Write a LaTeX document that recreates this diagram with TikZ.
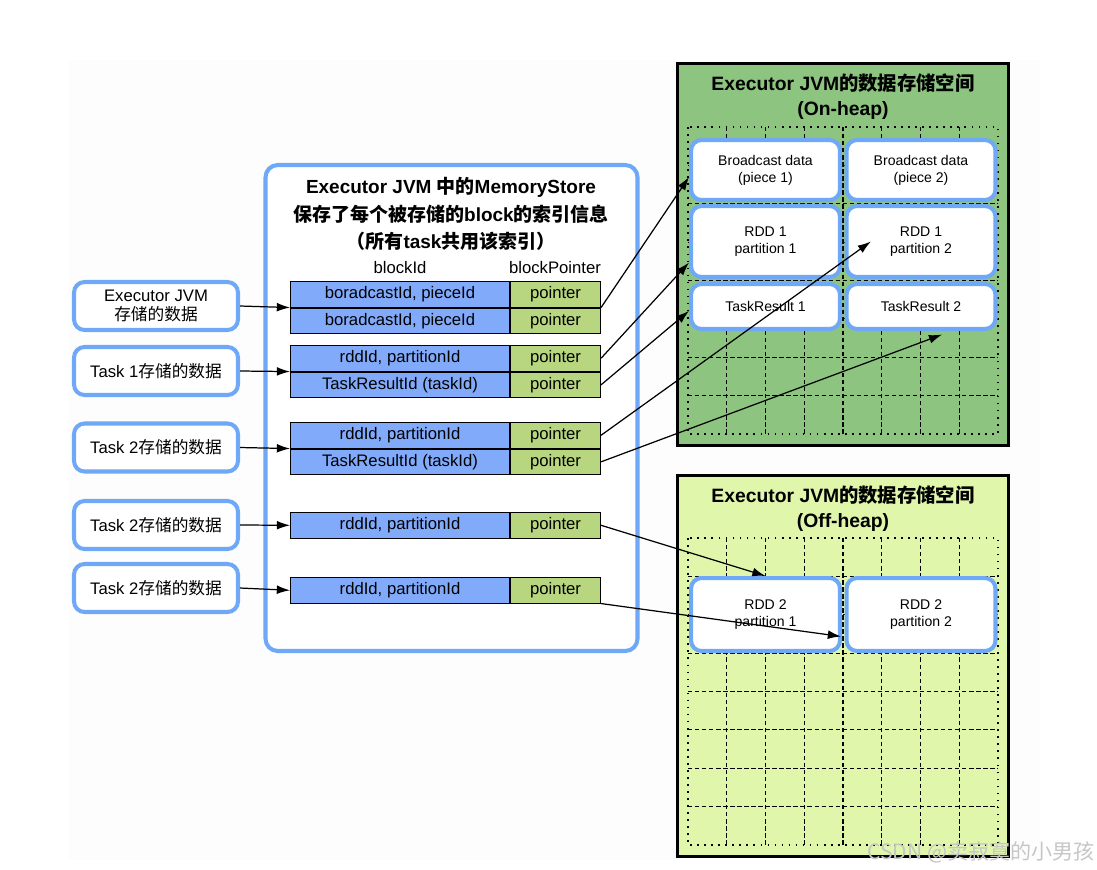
\documentclass[tikz,border=0pt]{standalone}
\usepackage{fontspec}
\setmainfont{Liberation Sans}
\newfontfamily\cjk{Noto Sans CJK SC}
\usetikzlibrary{arrows.meta,positioning}

\definecolor{azulborde}{RGB}{110,168,246}
\definecolor{azulcelda}{RGB}{130,170,250}
\definecolor{verdecelda}{RGB}{183,214,127}
\definecolor{verdeheap}{RGB}{140,196,128}
\definecolor{verdeoff}{RGB}{224,246,170}
\definecolor{fondo}{RGB}{253,253,253}

\tikzset{
  origen/.style={draw=azulborde, line width=2.3pt, fill=white, rounded corners=6pt, minimum width=3.28cm, minimum height=0.96cm, align=center, inner sep=0pt, font=\fontsize{9.5}{11.3}\selectfont},
  idcelda/.style={draw=black, line width=0.6pt, fill=azulcelda, minimum width=4.38cm, minimum height=0.51cm, inner sep=0pt, font=\fontsize{9.5}{11}\selectfont},
  ptrcelda/.style={idcelda, fill=verdecelda, minimum width=1.8cm},
  bloque/.style={draw=azulborde, line width=2.3pt, fill=white, rounded corners=6pt, minimum width=2.98cm, align=center, inner sep=0pt, font=\fontsize{8}{9.6}\selectfont},
  titulo/.style={font=\bfseries\fontsize{10.8}{13}\selectfont},
  subtitulo/.style={font=\bfseries\fontsize{11}{13}\selectfont},
  flecha/.style={line width=0.7pt, -{Latex[length=7.5pt,width=5pt]}},
  rejilla/.style={line width=0.6pt, dash pattern=on 2.5pt off 1.5pt},
  borde/.style={line width=0.6pt, dash pattern=on 1pt off 3pt},
}

\begin{document}
\begin{tikzpicture}[x=0.02cm, y=-0.02cm]

	\useasboundingbox (0,0) rectangle (1097,869);
	\fill[fondo] (69,60) rectangle (1040,860);

	% Datos de origen
	\node[origen] (lb1) at (156,306) {Executor JVM\\{\cjk 存储的数据}};
	\node[origen] (lb2) at (156,371) {Task 1{\cjk 存储的数据}};
	\node[origen] (lb3) at (156,447.5) {Task 2{\cjk 存储的数据}};
	\node[origen] (lb4) at (156,525) {Task 2{\cjk 存储的数据}};
	\node[origen] (lb5) at (156,588) {Task 2{\cjk 存储的数据}};

	% MemoryStore
	\draw[azulborde, line width=2.3pt, fill=white, rounded corners=7pt] (265.5,165) rectangle (637.5,651);
	\node[titulo] (t1) at (451,187) {Executor JVM {\cjk 中的}MemoryStore};
	\node[titulo] (t2) at (451,214) {{\cjk 保存了每个被存储的}block{\cjk 的索引信息}};
	\node[titulo] (t3) at (451,241) {{\cjk （所有}task{\cjk 共用该索引）}};
	\node[font=\fontsize{9.5}{11}\selectfont] (hid) at (400,268) {blockId};
	\node[font=\fontsize{9.5}{11}\selectfont] (hptr) at (555,268) {blockPointer};

	% Tabla de bloques
	\node[idcelda, anchor=north west] (k1) at (290,281) {boradcastId, pieceId};
	\node[ptrcelda, right=0pt of k1] (p1) {pointer};
	\node[idcelda, below=0pt of k1] (k2) {boradcastId, pieceId};
	\node[ptrcelda, right=0pt of k2] (p2) {pointer};

	\node[idcelda, anchor=north west] (k3) at (290,345) {rddId, partitionId};
	\node[ptrcelda, right=0pt of k3] (p3) {pointer};
	\node[idcelda, below=0pt of k3] (k4) {TaskResultId (taskId)};
	\node[ptrcelda, right=0pt of k4] (p4) {pointer};

	\node[idcelda, anchor=north west] (k5) at (290,422) {rddId, partitionId};
	\node[ptrcelda, right=0pt of k5] (p5) {pointer};
	\node[idcelda, below=0pt of k5] (k6) {TaskResultId (taskId)};
	\node[ptrcelda, right=0pt of k6] (p6) {pointer};

	\node[idcelda, anchor=north west] (k7) at (290,512) {rddId, partitionId};
	\node[ptrcelda, right=0pt of k7] (p7) {pointer};

	\node[idcelda, anchor=north west] (k8) at (290,577) {rddId, partitionId};
	\node[ptrcelda, right=0pt of k8] (p8) {pointer};

	% Espacio On-heap
	\draw[line width=1.7pt, fill=verdeheap] (677.5,63.5) rectangle (1008.5,445.5);
	\node[subtitulo] (on1) at (843,83) {Executor JVM{\cjk 的数据存储空间}};
	\node[subtitulo] (on2) at (843,110) {(On-heap)};
	\foreach \i in {1,...,7} {
		\draw[rejilla] ({688+38.75*\i},127) -- ({688+38.75*\i},434);
		\draw[rejilla] (688,{127+38.375*\i}) -- (998,{127+38.375*\i});
	}
	\draw[borde] (688,127) rectangle (998,434);

	\node[bloque, minimum height=1.2cm] (bc1) at (765.5,170) {Broadcast data\\(piece 1)};
	\node[bloque, minimum height=1.2cm] (bc2) at (921,170) {Broadcast data\\(piece 2)};
	\node[bloque, minimum height=1.42cm] (r1) at (765.5,241.5) {RDD 1\\partition 1};
	\node[bloque, minimum height=1.42cm] (r2) at (921,241.5) {RDD 1\\partition 2};
	\node[bloque, minimum height=0.9cm] (tr1) at (765.5,306.5) {TaskResult 1};
	\node[bloque, minimum height=0.9cm] (tr2) at (921,306.5) {TaskResult 2};

	% Espacio Off-heap
	\draw[line width=1.7pt, fill=verdeoff] (677.5,475.5) rectangle (1008.5,856.5);
	\node[subtitulo] (off1) at (843,495) {Executor JVM{\cjk 的数据存储空间}};
	\node[subtitulo] (off2) at (843,522) {(Off-heap)};
	\foreach \i in {1,...,7} {
		\draw[rejilla] ({688+38.75*\i},538) -- ({688+38.75*\i},845);
		\draw[rejilla] (688,{538+38.375*\i}) -- (998,{538+38.375*\i});
	}
	\draw[borde] (688,538) rectangle (998,845);

	\node[bloque, minimum height=1.46cm] (rd1) at (765.5,614.5) {RDD 2\\partition 1};
	\node[bloque, minimum height=1.46cm] (rd2) at (921,614.5) {RDD 2\\partition 2};

	% Flechas hacia la tabla
	\draw[flecha] (lb1.east) -- (k1.south west);
	\draw[flecha] (lb2.east) -- (k3.south west);
	\draw[flecha] (lb3.east) -- (k5.south west);
	\draw[flecha] (lb4.east) -- (k7.west);
	\draw[flecha] (lb5.east) -- (k8.west);

	% Flechas de los punteros
	\draw[flecha] (p1.south east) -- ([yshift=-4pt]bc1.west);
	\draw[flecha] (p3.east) -- ([yshift=-12pt]r1.west);
	\draw[flecha] (p4.east) -- ([yshift=-2.5pt]tr1.west);
	\draw[flecha] (p5.east) -- ([xshift=15pt]r2.west);
	\draw[flecha] (p6.east) -- ([xshift=12pt,yshift=-2pt]tr2.south);
	\draw[flecha] (p7.east) -- (rd1.north);
	\draw[flecha] (p8.south east) -- ([xshift=-2pt,yshift=-12.5pt]rd2.west);

	% Marca de agua
	\node[text=gray!45, font=\cjk\fontsize{12}{14}\selectfont] (marca) at (981,852) {CSDN @卖寂寞的小男孩};

\end{tikzpicture}
\end{document}
